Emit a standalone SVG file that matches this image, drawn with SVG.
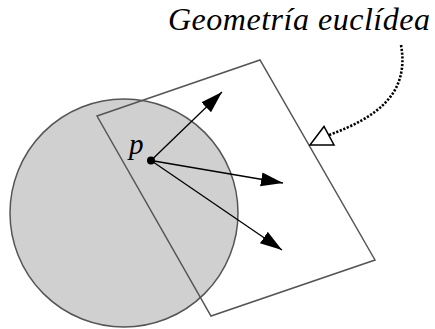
<svg xmlns="http://www.w3.org/2000/svg" width="435" height="329" viewBox="0 0 435 329">
<defs>
<style>
.shape{stroke:#555;stroke-width:1.5}
.vec{stroke:#000;stroke-width:1.3;fill:none}
.lbl{font-style:italic;fill:#000}
</style>
<marker id="ah" markerUnits="userSpaceOnUse" markerWidth="24" markerHeight="16" refX="22" refY="7" orient="auto">
<path d="M0,0 L22,7 L0,14 Z" fill="#000"/>
</marker>
</defs>
<rect width="435" height="329" fill="#fff"/>
<g id="circle">
<circle cx="124" cy="213" r="114" fill="#d0d0d0" class="shape"/>
</g>
<g id="plane">
<polygon points="97,116 260,60 375,260 211,316" fill="none" class="shape"/>
</g>
<g id="label">
<text class="lbl" font-family="Liberation Serif, DejaVu Serif, serif" x="168" y="30" font-size="32" textLength="262" lengthAdjust="spacing">Geometría euclídea</text>
</g>
<g id="point">
<circle cx="151" cy="160.5" r="4" fill="#000"/>
<text class="lbl" font-family="Liberation Serif, DejaVu Serif, serif" x="129" y="154" font-size="29">p</text>
</g>
<g id="connectors">
<line class="vec" x1="151" y1="160.5" x2="222" y2="92" marker-end="url(#ah)"/>
<line class="vec" x1="151" y1="160.5" x2="283" y2="183" marker-end="url(#ah)"/>
<line class="vec" x1="151" y1="160.5" x2="282" y2="250" marker-end="url(#ah)"/>
<path d="M401,45 C410,95 375,118 329,135" fill="none" stroke="#000" stroke-width="2.6" stroke-dasharray="2.2 1.6"/>
<polygon points="310,145 324,126.5 334,145" fill="#fff" stroke="#000" stroke-width="1.5"/>
</g>
</svg>
